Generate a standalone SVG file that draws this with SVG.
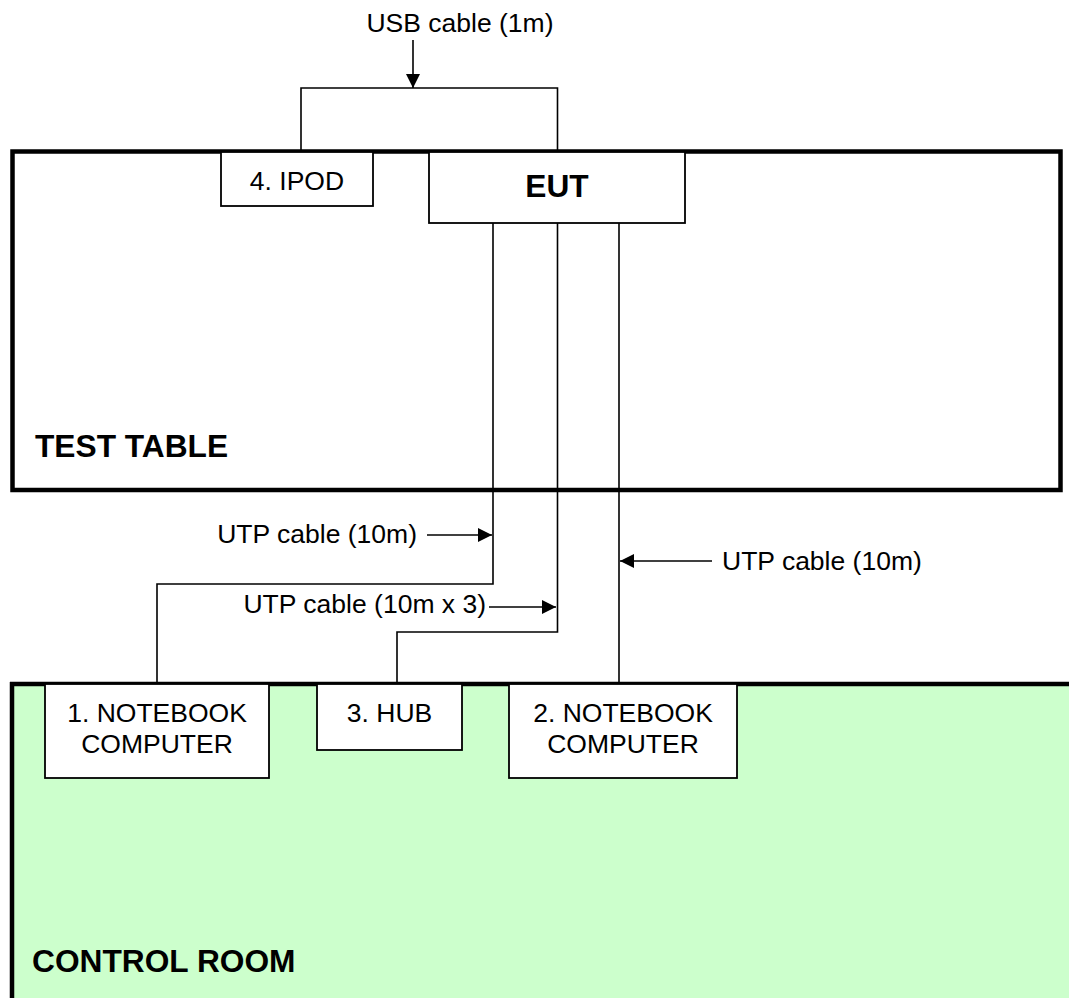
<svg xmlns="http://www.w3.org/2000/svg" width="1069" height="998" viewBox="0 0 1069 998">
<style>
.t{font-family:"Liberation Sans",Arial,sans-serif;font-size:26.5px;fill:#000}
.b{font-family:"Liberation Sans",Arial,sans-serif;font-size:31.7px;font-weight:bold;fill:#000}
.box{fill:#fff;stroke:#000;stroke-width:1.8}
.ln{fill:none;stroke:#000;stroke-width:1.6}
</style>
<defs>
<marker id="ah" markerUnits="userSpaceOnUse" markerWidth="14" markerHeight="14" refX="14" refY="7" orient="auto">
<path d="M0,0 L14,7 L0,14 z" fill="#000"/>
</marker>
</defs>
<rect width="1069" height="998" fill="#fff"/>
<g id="test-table">
<rect x="12.5" y="151.5" width="1048" height="338.5" fill="#fff" stroke="#000" stroke-width="4.5"/>
<text class="b" x="35" y="457">TEST TABLE</text>
</g>
<g id="control-room">
<rect x="12" y="684" width="1057" height="314" fill="#CCFFCC"/>
<path d="M10,684 H1069 M12,682 V998" fill="none" stroke="#000" stroke-width="4.5"/>
<text class="b" x="32" y="972">CONTROL ROOM</text>
</g>
<g id="connectors">
<path class="ln" d="M301,152 V88 H557.5 V152"/>
<path class="ln" d="M413,40 V88" marker-end="url(#ah)"/>
<text class="t" x="460" y="32" text-anchor="middle">USB cable (1m)</text>
<path class="ln" d="M493,223 V584 H157 V684"/>
<path class="ln" d="M557.5,223 V632 H397 V684"/>
<path class="ln" d="M619,223 V684"/>
<path class="ln" d="M427,535 H492" marker-end="url(#ah)"/>
<text class="t" x="417" y="543" text-anchor="end">UTP cable (10m)</text>
<path class="ln" d="M489,607 H556" marker-end="url(#ah)"/>
<text class="t" x="486" y="613" text-anchor="end">UTP cable (10m x 3)</text>
<path class="ln" d="M712,561 H620" marker-end="url(#ah)"/>
<text class="t" x="722" y="570">UTP cable (10m)</text>
</g>
<g id="ipod">
<rect class="box" x="221" y="152" width="152" height="54"/>
<text class="t" x="297" y="190" text-anchor="middle">4. IPOD</text>
</g>
<g id="eut">
<rect class="box" x="429" y="152" width="256" height="71"/>
<text class="b" x="557" y="197" text-anchor="middle">EUT</text>
</g>
<g id="notebook1">
<rect class="box" x="45" y="684" width="224" height="94"/>
<text class="t" x="157" y="722" text-anchor="middle">1. NOTEBOOK</text>
<text class="t" x="157" y="753" text-anchor="middle">COMPUTER</text>
</g>
<g id="hub">
<rect class="box" x="317" y="684" width="145" height="66"/>
<text class="t" x="389.5" y="722" text-anchor="middle">3. HUB</text>
</g>
<g id="notebook2">
<rect class="box" x="509" y="684" width="228" height="94"/>
<text class="t" x="623" y="722" text-anchor="middle">2. NOTEBOOK</text>
<text class="t" x="623" y="753" text-anchor="middle">COMPUTER</text>
</g>
</svg>
